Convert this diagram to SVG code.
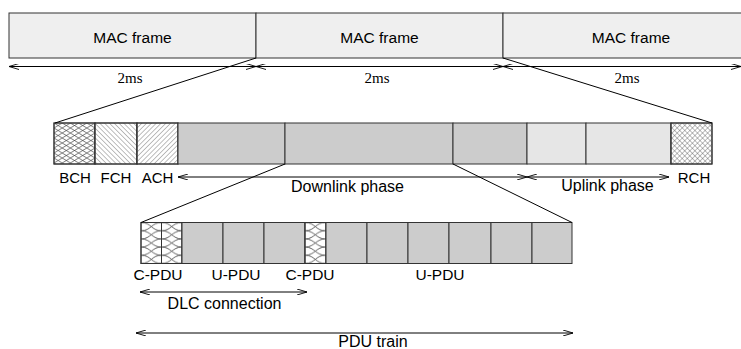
<svg xmlns="http://www.w3.org/2000/svg" width="741" height="349" viewBox="0 0 741 349">
  <style>
    .box { stroke: #333; stroke-width: 1; }
    .frame { fill: #efefef; }
    .dark { fill: #cccccc; }
    .light { fill: #e6e6e6; }
    .white { fill: #ffffff; }
    .conn { stroke: #000; stroke-width: 1; fill: none; }
    .dim { stroke: #000; stroke-width: 1; fill: none; marker-start: url(#head); marker-end: url(#head); }
    .sans { font-family: "Liberation Sans", Arial, sans-serif; fill: #000; text-anchor: middle; }
    .serif { font-family: "Liberation Serif", "Times New Roman", serif; font-size: 15px; fill: #000; text-anchor: middle; }
  </style>
  <defs>
    <marker id="head" viewBox="0 0 10 6" refX="10" refY="3" markerWidth="10" markerHeight="6" markerUnits="userSpaceOnUse" orient="auto-start-reverse">
      <path d="M0,0 L10,3 L0,6" fill="none" stroke="#000" stroke-width="0.9"/>
    </marker>
    <!-- BCH: shallow diamond lattice -->
    <pattern id="lattice" patternUnits="userSpaceOnUse" x="54" y="123" width="8.2" height="5">
      <path d="M0,0 L8.2,5 M0,5 L8.2,0" stroke="#444" stroke-width="0.7" fill="none"/>
    </pattern>
    <!-- FCH: backslash hatching -->
    <pattern id="hatchBack" patternUnits="userSpaceOnUse" width="3.4" height="3.4" patternTransform="rotate(-45)">
      <line x1="0" y1="0" x2="0" y2="3.4" stroke="#444" stroke-width="0.7"/>
    </pattern>
    <!-- ACH: forward slash hatching -->
    <pattern id="hatchFwd" patternUnits="userSpaceOnUse" width="3.4" height="3.4" patternTransform="rotate(45)">
      <line x1="0" y1="0" x2="0" y2="3.4" stroke="#444" stroke-width="0.7"/>
    </pattern>
    <!-- RCH: fine cross hatching -->
    <pattern id="crossFine" patternUnits="userSpaceOnUse" width="3.6" height="3.6" patternTransform="rotate(45)">
      <path d="M0,0 L0,3.6 M0,0 L3.6,0" stroke="#444" stroke-width="0.7" fill="none"/>
    </pattern>
    <!-- C-PDU: curved crossing scallops -->
    <pattern id="scallop" patternUnits="userSpaceOnUse" x="141" y="222.5" width="20.5" height="8.2">
      <path d="M0,0 C10,0 10.5,8.2 20.5,8.2 M20.5,0 C10.5,0 10,8.2 0,8.2" stroke="#333" stroke-width="0.8" fill="none"/>
    </pattern>
  </defs>

  <!-- MAC frames, 2 ms each -->
  <g id="mac-frame-1">
    <rect class="box frame" x="9" y="13" width="247" height="45"/>
    <text class="sans" x="132.5" y="43" font-size="15.5">MAC frame</text>
  </g>
  <g id="mac-frame-2">
    <rect class="box frame" x="256" y="13" width="247" height="45"/>
    <text class="sans" x="379.5" y="43" font-size="15.5">MAC frame</text>
  </g>
  <g id="mac-frame-3">
    <rect class="box frame" x="503" y="13" width="256" height="45"/>
    <text class="sans" x="631" y="43" font-size="15.5">MAC frame</text>
  </g>

  <!-- Frame phases -->
  <g id="frame-bar">
    <rect class="box white" x="54" y="123" width="41" height="41"/>
    <rect x="54" y="123" width="41" height="41" fill="url(#lattice)" class="box"/>
    <rect class="box white" x="95" y="123" width="42" height="41"/>
    <rect x="95" y="123" width="42" height="41" fill="url(#hatchBack)" class="box"/>
    <rect class="box white" x="137" y="123" width="41" height="41"/>
    <rect x="137" y="123" width="41" height="41" fill="url(#hatchFwd)" class="box"/>
    <rect class="box dark" x="178" y="123" width="107" height="41"/>
    <rect class="box dark" x="285" y="123" width="168" height="41"/>
    <rect class="box dark" x="453" y="123" width="74" height="41"/>
    <rect class="box light" x="527" y="123" width="59" height="41"/>
    <rect class="box light" x="586" y="123" width="85" height="41"/>
    <rect class="box white" x="671" y="123" width="41" height="41"/>
    <rect x="671" y="123" width="41" height="41" fill="url(#crossFine)" class="box"/>
    <text class="sans" x="75" y="183" font-size="15">BCH</text>
    <text class="sans" x="116" y="183" font-size="15">FCH</text>
    <text class="sans" x="157.5" y="183" font-size="15">ACH</text>
    <text class="sans" x="694" y="183" font-size="15">RCH</text>
    <text class="sans" x="347.5" y="192" font-size="16">Downlink phase</text>
    <text class="sans" x="607.5" y="191" font-size="16">Uplink phase</text>
  </g>

  <!-- PDU train -->
  <g id="pdu-train">
    <rect class="box white" x="141" y="222.5" width="41" height="41"/>
    <rect x="141" y="222.5" width="41" height="41" fill="url(#scallop)" class="box"/>
    <line class="box" x1="161.5" y1="222.5" x2="161.5" y2="263.5"/>
    <rect class="box dark" x="182" y="222.5" width="41" height="41"/>
    <rect class="box dark" x="223" y="222.5" width="41" height="41"/>
    <rect class="box dark" x="264" y="222.5" width="41" height="41"/>
    <rect class="box white" x="305" y="222.5" width="21" height="41"/>
    <rect x="305" y="222.5" width="21" height="41" fill="url(#scallop)" class="box"/>
    <rect class="box dark" x="326" y="222.5" width="41" height="41"/>
    <rect class="box dark" x="367" y="222.5" width="41" height="41"/>
    <rect class="box dark" x="408" y="222.5" width="41" height="41"/>
    <rect class="box dark" x="449" y="222.5" width="42" height="41"/>
    <rect class="box dark" x="491" y="222.5" width="41" height="41"/>
    <rect class="box dark" x="532" y="222.5" width="40" height="41"/>
    <text class="sans" x="158" y="280" font-size="15.5">C-PDU</text>
    <text class="sans" x="236" y="280" font-size="15.5">U-PDU</text>
    <text class="sans" x="310" y="280" font-size="15.5">C-PDU</text>
    <text class="sans" x="440" y="280" font-size="15.5">U-PDU</text>
    <text class="sans" x="224.5" y="309" font-size="16">DLC connection</text>
    <text class="sans" x="373" y="347" font-size="16">PDU train</text>
  </g>

  <!-- Dimension arrows, zoom lines -->
  <g id="connectors">
    <line class="dim" x1="9" y1="66.5" x2="256" y2="66.5"/>
    <line class="dim" x1="256" y1="66.5" x2="503" y2="66.5"/>
    <line class="dim" x1="503" y1="66.5" x2="741" y2="66.5"/>
    <text class="serif" x="130" y="83">2ms</text>
    <text class="serif" x="377" y="83">2ms</text>
    <text class="serif" x="627" y="83">2ms</text>

    <line class="conn" x1="256" y1="58" x2="55" y2="123"/>
    <line class="conn" x1="503" y1="58" x2="712" y2="123"/>
    <line class="conn" x1="285" y1="164" x2="141" y2="222.5"/>
    <line class="conn" x1="453" y1="164" x2="572" y2="222.5"/>

    <line class="dim" x1="178" y1="177" x2="527" y2="177"/>
    <line class="dim" x1="527" y1="177" x2="669" y2="177"/>
    <line class="dim" x1="140" y1="292" x2="307" y2="292"/>
    <line class="dim" x1="136" y1="333" x2="573" y2="333"/>
  </g>
</svg>
